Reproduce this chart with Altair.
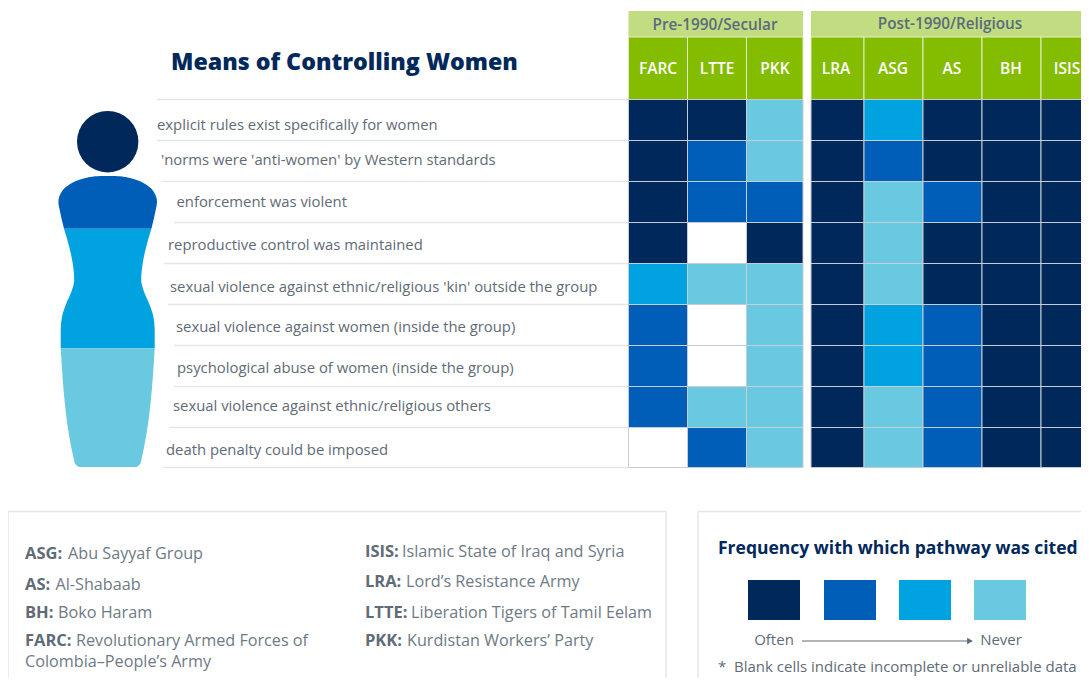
import altair as alt
import pandas as pd

# ---------- data ----------
columns = ["FARC", "LTTE", "PKK", "LRA", "ASG", "AS", "BH", "ISIS"]
rows = [
    "explicit rules exist specifically for women",
    "'norms were 'anti-women' by Western standards",
    "enforcement was violent",
    "reproductive control was maintained",
    "sexual violence against ethnic/religious 'kin' outside the group",
    "sexual violence against women (inside the group)",
    "psychological abuse of women (inside the group)",
    "sexual violence against ethnic/religious others",
    "death penalty could be imposed",
]
# 1 = often ... 4 = never, 0 = blank
FARC = [1, 1, 1, 1, 3, 2, 2, 2, 0]
LTTE = [1, 2, 2, 0, 4, 0, 0, 4, 2]
PKK = [4, 4, 2, 1, 4, 4, 4, 4, 4]
LRA = [1, 1, 1, 1, 1, 1, 1, 1, 1]
ASG = [3, 2, 4, 4, 4, 3, 3, 4, 4]
AS = [1, 1, 2, 1, 1, 2, 2, 2, 2]
BH = [1, 1, 1, 1, 1, 1, 1, 1, 1]
ISIS = [1, 1, 1, 1, 1, 1, 1, 1, 1]
matrix = [FARC, LTTE, PKK, LRA, ASG, AS, BH, ISIS]

groups = ["Pre-1990/Secular", "Post-1990/Religious"]
key_bold = ["ASG:", "AS:", "BH:", "FARC:", "ISIS:", "LRA:", "LTTE:", "PKK:"]
key_text = ["Abu Sayyaf Group", "Al-Shabaab", "Boko Haram", "Revolutionary Armed Forces of",
            "Islamic State of Iraq and Syria", "Lord\u2019s Resistance Army",
            "Liberation Tigers of Tamil Eelam", "Kurdistan Workers\u2019 Party"]
key_extra = "Colombia\u2013People\u2019s Army"

# ---------- layout ----------
W, H = 1073, 670
RIGHT = 8 + W
col_edges = [628.5, 687.5, 746.5, 803, 811, 864, 923, 982, 1041, 1100]
col_left = col_edges[:3] + col_edges[4:9]
col_right = col_edges[1:4] + col_edges[5:10]
col_center = [658, 717, 775, 836, 893, 952, 1011, 1067]
row_edges = [99.5, 140.5, 181.5, 222.5, 263.5, 304.5, 345.5, 386.5, 427.5, 467.5]
line_start = [157, 157, 162, 174, 164, 168, 174, 174, 169, 163]
label_x = [157, 161, 176.5, 168, 170, 176, 177, 173, 166]
label_y = [125, 160, 202, 245, 287, 327, 368, 406, 450]

NAVY, BLUE, SKY, PALE = "#00285A", "#005EB8", "#00A3E0", "#69C9E0"
GREEN, LIGHTGREEN = "#84BD00", "#C2DD81"
GRAY, CELL = "#5F6B76", "#C6CDD4"
FONT = "Open Sans"

x_scale = alt.Scale(domain=[8, RIGHT], range=[0, W], nice=False, zero=False)
y_scale = alt.Scale(domain=[8 + H, 8], nice=False, zero=False)
level_scale = alt.Scale(domain=[0, 1, 2, 3, 4], range=["#FFFFFF", NAVY, BLUE, SKY, PALE])


def X(f="x"):
    return alt.X(f"{f}:Q", scale=x_scale, axis=None)


def Y(f="y"):
    return alt.Y(f"{f}:Q", scale=y_scale, axis=None)


def text_layer(items, size, color, weight=400, align="left", font=FONT, dy=1):
    df = pd.DataFrame(items, columns=["x", "y", "t"])
    return alt.Chart(df).mark_text(
        font=font, fontSize=size, color=color, fontWeight=weight, align=align, baseline="middle", dy=dy
    ).encode(x=X(), y=Y(), text="t:N")


layers = []

# silhouette (half widths measured around the figure's axis)
axis_x = 107.7
body_y = [[176, 176.5, 178, 180, 185, 191.7, 201.7, 210, 228.7],
          [228.7, 246.7, 263.3, 280, 290, 303.3, 316.7, 330, 348.3],
          [348.3, 463, 467]]
body_half = [[5, 14, 22, 29, 39, 46, 49.3, 48, 43.7],
             [43.7, 38.5, 35, 33.5, 35.7, 41.3, 45.7, 47, 47],
             [47, 33, 29]]
sil = []
for lvl, (ys, hs) in enumerate(zip(body_y, body_half), start=2):
    for yy, hh in zip(ys, hs):
        sil.append({"y": yy, "x": axis_x - hh, "x2": axis_x + hh, "level": lvl})
layers.append(alt.Chart(pd.DataFrame(sil)).mark_area(orient="horizontal", interpolate="monotone").encode(
    y=Y(), x=X(), x2=alt.X2("x2:Q"),
    color=alt.Color("level:O", scale=level_scale, legend=None)))
layers.append(alt.Chart(pd.DataFrame({"x": [axis_x], "y": [141.7], "level": [1]})).mark_point(
    shape="circle", filled=True, size=3770, opacity=1).encode(
    x=X(), y=Y(), color=alt.Color("level:O", scale=level_scale, legend=None)))

# row rules
layers.append(alt.Chart(pd.DataFrame({"x": line_start, "x2": [628] * 10, "y": row_edges})).mark_rule(
    color="#E4E7EA", strokeWidth=1.5).encode(x=X(), x2=alt.X2("x2:Q"), y=Y()))

# group and column headers
grp = pd.DataFrame({"x": [628.5, 811], "x2": [803, 1100], "y": [11, 11], "y2": [37, 37]})
layers.append(alt.Chart(grp).mark_rect(color=LIGHTGREEN, clip=True).encode(
    x=X(), x2=alt.X2("x2:Q"), y=Y(), y2=alt.Y2("y2:Q")))
hdr = pd.DataFrame({"x": col_left, "x2": col_right, "y": [37] * 8, "y2": [99.5] * 8})
layers.append(alt.Chart(hdr).mark_rect(color=GREEN, stroke="#E3EDC8", strokeWidth=1, clip=True).encode(
    x=X(), x2=alt.X2("x2:Q"), y=Y(), y2=alt.Y2("y2:Q")))

# heat cells
cells = []
for c, vals in enumerate(matrix):
    for r, v in enumerate(vals):
        cells.append({"column": columns[c], "row": rows[r], "x": col_left[c], "x2": col_right[c],
                      "y": row_edges[r], "y2": row_edges[r + 1], "level": v})
layers.append(alt.Chart(pd.DataFrame(cells)).mark_rect(stroke=CELL, strokeWidth=1, clip=True).encode(
    x=X(), x2=alt.X2("x2:Q"), y=Y(), y2=alt.Y2("y2:Q"),
    color=alt.Color("level:O", scale=level_scale, legend=None)))

# header texts
layers.append(text_layer([(715, 24, groups[0]), (950, 23, groups[1])], 15.3, "#5A6B7C", 600, "center"))
layers.append(text_layer(list(zip(col_center, [68] * 8, columns)), 15.5, "#FFFFFF", 600, "center"))

# title and row labels
layers.append(text_layer([(171, 61, "Means of Controlling Women")], 23.2, NAVY, 800, dy=2))
layers.append(text_layer(list(zip(label_x, label_y, rows)), 14.85, GRAY, 500))

# legend boxes
bottom = 8 + H
box = pd.DataFrame({"x": [8, 8, 666, 698, 698], "x2": [666, 8, 666, RIGHT, 698],
                    "y": [511.5] * 5, "y2": [511.5, bottom, bottom, 511.5, bottom]})
layers.append(alt.Chart(box).mark_rule(color="#E4E7EA", strokeWidth=1.5).encode(
    x=X(), x2=alt.X2("x2:Q"), y=Y(), y2=alt.Y2("y2:Q")))

# abbreviations key
bx = [25, 25, 25, 25, 365, 365, 365, 365]
by = [553, 584, 612, 640, 551, 581, 612, 640]
tx = [68, 55.5, 58, 76, 402, 406, 411, 407]
layers.append(text_layer(list(zip(bx, by, key_bold)), 16.5, GRAY, 700))
layers.append(text_layer(list(zip(tx, by, key_text)) + [(25, 661, key_extra)], 16.2, "#6E7A85", 400))

# frequency legend
layers.append(text_layer([(718, 548, "Frequency with which pathway was cited")], 17.5, NAVY, 700))
sw = pd.DataFrame({"x": [748, 824, 899, 974], "x2": [800, 876, 951, 1026], "y": [580] * 4, "y2": [620] * 4,
                   "level": [1, 2, 3, 4]})
layers.append(alt.Chart(sw).mark_rect().encode(
    x=X(), x2=alt.X2("x2:Q"), y=Y(), y2=alt.Y2("y2:Q"),
    color=alt.Color("level:O", scale=level_scale, legend=None)))
layers.append(text_layer([(774, 639, "Often"), (1001, 639, "Never")], 15, GRAY, 400, "center"))
layers.append(alt.Chart(pd.DataFrame({"x": [802], "x2": [970], "y": [641]})).mark_rule(
    color=GRAY, strokeWidth=1).encode(x=X(), x2=alt.X2("x2:Q"), y=Y()))
layers.append(alt.Chart(pd.DataFrame({"x": [970], "y": [641]})).mark_point(
    shape="triangle-right", filled=True, size=45, color=GRAY, opacity=1).encode(x=X(), y=Y()))
layers.append(text_layer([(718, 666, "*"), (734, 666, "Blank cells indicate incomplete or unreliable data")],
                         15, GRAY, 400))

chart = alt.layer(*layers).properties(
    width=W, height=H, padding=0,
    autosize=alt.AutoSizeParams(type="none"),
).configure_view(stroke=None)

chart.save("out.html", embed_options={"renderer": "svg", "actions": False})
